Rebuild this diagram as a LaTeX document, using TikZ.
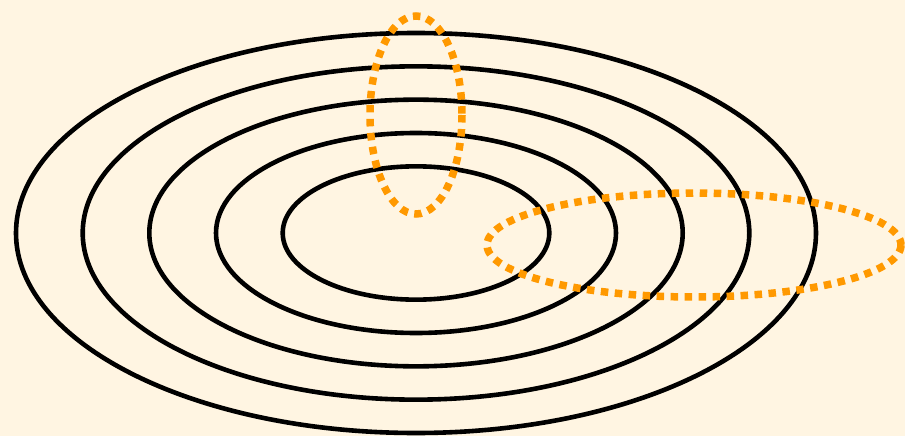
\documentclass[tikz,border=0pt]{standalone}
\usepackage{tikz}
\definecolor{bg}{HTML}{FFF5E2}
\definecolor{orng}{HTML}{FF9900}
\begin{document}
\begin{tikzpicture}[x=1pt,y=-1pt,
  ring/.style={draw=black,line width=4.6pt},
  dotted ring/.style={draw=orng,line width=7.5pt,dash pattern=on 7.5pt off 6.5pt}]
\fill[bg] (0,0) rectangle (905,436);
\useasboundingbox (0,0) rectangle (905,436);
\foreach \r in {400,333.3,266.7,200,133.3}{
  \draw[ring] (416,233) ellipse [x radius=\r, y radius=\r/2];
}
\draw[dotted ring] (416,115) ellipse [x radius=46, y radius=99];
\draw[dotted ring] (694,245) ellipse [x radius=207, y radius=52];
\end{tikzpicture}
\end{document}
